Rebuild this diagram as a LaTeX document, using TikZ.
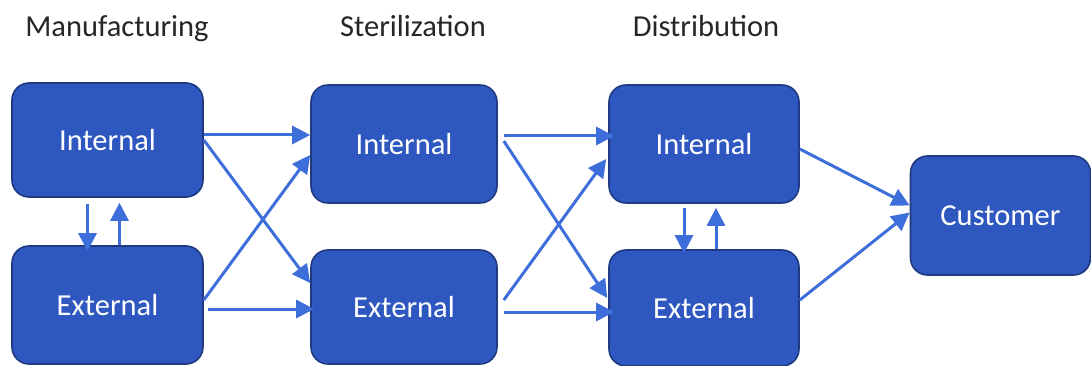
\documentclass[tikz,border=0pt]{standalone}
\usepackage{fontspec}
\setmainfont{Carlito}
\usetikzlibrary{arrows.meta}
\definecolor{boxfill}{RGB}{46,88,192}
\definecolor{boxline}{RGB}{32,58,128}
\definecolor{arrowc}{RGB}{62,110,218}
\tikzset{
  stagebox/.style={draw=boxline, line width=1.6pt, fill=boxfill, rounded corners=17pt,
    text=white, font=\fontsize{30.5}{34}\selectfont, inner sep=0pt},
  flow/.style={draw=arrowc, line width=3pt, -{Triangle[length=18pt,width=18pt]}},
  title/.style={font=\fontsize{30.5}{34}\selectfont, text=black!85, anchor=base}
}
\begin{document}
\begin{tikzpicture}[x=1pt,y=-1pt]
\useasboundingbox (0,0) rectangle (1091,366);
% titles
\node[title] (tm) at (117,37) {Manufacturing};
\node[title] (ts) at (413,37) {Sterilization};
\node[title] (td) at (706,37) {Distribution};
% boxes
\node[stagebox, minimum width=191pt, minimum height=114pt] (mi) at (107.5,140) {Internal};
\node[stagebox, minimum width=191pt, minimum height=118pt] (me) at (107.5,305) {External};
\node[stagebox, minimum width=186pt, minimum height=118pt] (si) at (404,144) {Internal};
\node[stagebox, minimum width=186pt, minimum height=114pt] (se) at (404,307) {External};
\node[stagebox, minimum width=190pt, minimum height=118pt] (di) at (704,144) {Internal};
\node[stagebox, minimum width=190pt, minimum height=116pt] (de) at (704,308) {External};
\node[stagebox, minimum width=180pt, minimum height=119pt] (cu) at (1000.5,215.5) {Customer};
% manufacturing -> sterilization
\draw[flow] ([yshift=5pt]mi.east) -- ([yshift=5pt]mi.east -| si.west);
\draw[flow] (mi.east) -- ([yshift=24pt]se.west);
\draw[flow] ([yshift=5pt]me.east) -- ([yshift=-11pt]si.west);
\draw[flow] ([xshift=4pt,yshift=-4pt]me.east) -- ([xshift=4pt,yshift=-4pt]me.east -| se.west);
% sterilization -> distribution
\draw[flow] ([xshift=6pt,yshift=8pt]si.east) -- ([xshift=6pt,yshift=8pt]si.east -| di.west);
\draw[flow] ([xshift=6pt,yshift=3pt]si.east) -- ([xshift=-1pt,yshift=10pt]de.west);
\draw[flow] ([xshift=6pt,yshift=7pt]se.east) -- ([xshift=-2pt,yshift=-15pt]di.west);
\draw[flow] ([xshift=6pt,yshift=-5pt]se.east) -- ([xshift=6pt,yshift=-5pt]se.east -| de.west);
% distribution -> customer
\draw[flow] ([yshift=-5pt]di.east) -- ([yshift=10pt]cu.west);
\draw[flow] ([yshift=8pt]de.east) -- ([yshift=3pt]cu.west);
% internal <-> external
\draw[flow] ([xshift=-20pt,yshift=-6pt]mi.south) -- ([xshift=-20pt,yshift=-6pt]mi.south |- me.north);
\draw[flow] ([xshift=12pt]me.north) -- ([xshift=12pt,yshift=-5pt]me.north |- mi.south);
\draw[flow] ([xshift=-20pt,yshift=-4pt]di.south) -- ([xshift=-20pt,yshift=-4pt]di.south |- de.north);
\draw[flow] ([xshift=12pt]de.north) -- ([xshift=12pt,yshift=-4pt]de.north |- di.south);
\end{tikzpicture}
\end{document}
